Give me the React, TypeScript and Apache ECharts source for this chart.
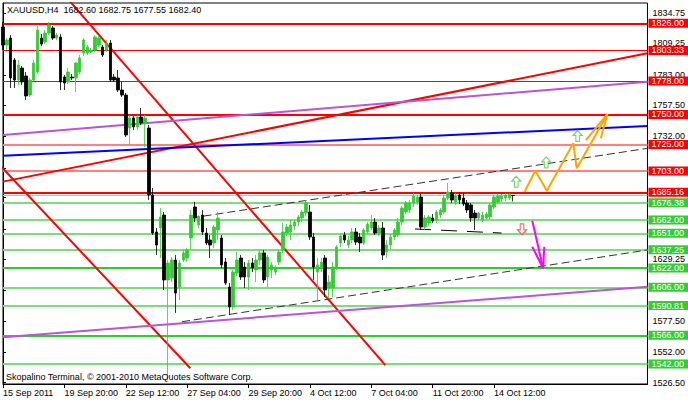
import React, { useEffect, useRef } from "react";
import * as echarts from "echarts";

// ---------- data ----------
const tickLabels = [
  "15 Sep 2011", "19 Sep 20:00", "22 Sep 12:00", "27 Sep 04:00", "29 Sep 20:00",
  "4 Oct 12:00", "7 Oct 04:00", "11 Oct 20:00", "14 Oct 12:00",
];
const barsPerTick = 16;
const slotCount = 169;

const opens = [
  1822.9, 1807.9, 1813.7, 1795.4, 1778.7, 1788.7, 1782.1, 1766.2, 1778.7, 1785.4,
  1813.7, 1810.4, 1817.9, 1822.1, 1813.7, 1814.6, 1781.2, 1777.1, 1781.2, 1780.4,
  1785.4, 1801.2, 1801.2, 1802.1, 1803.7, 1807.9, 1806.2, 1803.7, 1809.6, 1781.2,
  1780.4, 1770.4, 1766.2, 1738.7, 1747.1, 1739.6, 1747.9, 1742.9, 1738.7, 1682.9,
  1652.1, 1655.4, 1666.2, 1612.1, 1613.7, 1628.7, 1606.2, 1628.7, 1630.4, 1647.1,
  1672.9, 1657.9, 1666.2, 1651.2, 1645.4, 1642.9, 1653.7, 1647.1, 1627.1, 1606.2,
  1589.6, 1617.9, 1630.4, 1622.9, 1614.6, 1626.2, 1620.4, 1628.7, 1634.6, 1614.6,
  1620.4, 1618.7, 1627.1, 1637.1, 1651.2, 1652.1, 1657.1, 1660.4, 1663.7, 1667.9,
  1668.7, 1647.9, 1618.7, 1622.1, 1630.4, 1605.4, 1605.4, 1622.9, 1642.9, 1649.6,
  1641.2, 1645.4, 1652.1, 1647.9, 1642.9, 1652.1, 1655.4, 1660.4, 1651.2, 1655.4,
  1635.4, 1641.2, 1647.9, 1649.6, 1660.4, 1668.7, 1670.4, 1676.2, 1677.1, 1681.2,
  1656.2, 1659.6, 1663.7, 1662.1, 1666.2, 1668.7, 1680.4, 1684.6, 1677.1, 1682.9,
  1680.4, 1676.2, 1674.6, 1667.9, 1663.7, 1662.1, 1663.7, 1664.6, 1672.9, 1677.1,
  1679.6, 1680.4, 1680.4, 1682.6,
];
const highs = [
  1827.1, 1813.7, 1816.2, 1797.1, 1795.4, 1790.4, 1785.4, 1780.4, 1795.4, 1823.7,
  1817.1, 1820.4, 1827.1, 1823.7, 1817.9, 1817.1, 1782.9, 1788.7, 1783.7, 1793.7,
  1799.6, 1813.7, 1807.9, 1805.4, 1816.2, 1816.2, 1807.9, 1812.1, 1812.1, 1783.7,
  1787.1, 1777.1, 1767.9, 1749.6, 1748.7, 1749.6, 1755.4, 1749.6, 1741.2, 1688.7,
  1655.4, 1672.1, 1668.7, 1628.7, 1631.2, 1632.9, 1628.7, 1637.1, 1638.7, 1670.4,
  1677.1, 1666.2, 1670.4, 1655.4, 1649.6, 1657.9, 1668.7, 1649.6, 1630.4, 1609.6,
  1620.4, 1635.4, 1632.9, 1627.1, 1628.7, 1630.4, 1632.9, 1637.1, 1637.1, 1632.9,
  1627.1, 1624.6, 1637.1, 1659.6, 1658.7, 1662.1, 1662.1, 1666.2, 1670.4, 1678.7,
  1674.6, 1651.2, 1630.4, 1630.4, 1632.9, 1616.2, 1627.1, 1641.2, 1651.2, 1652.1,
  1648.7, 1655.4, 1655.4, 1651.2, 1655.4, 1660.4, 1666.2, 1663.7, 1657.9, 1660.4,
  1645.4, 1650.4, 1655.4, 1663.7, 1673.7, 1677.9, 1678.7, 1684.6, 1682.9, 1683.7,
  1666.2, 1666.2, 1667.1, 1670.4, 1672.1, 1682.9, 1692.9, 1687.1, 1684.6, 1685.4,
  1684.6, 1678.7, 1676.2, 1670.4, 1668.7, 1668.7, 1668.7, 1676.2, 1682.9, 1683.7,
  1683.7, 1684.6, 1684.6, 1682.75,
];
const lows = [
  1803.7, 1803.7, 1772.1, 1772.1, 1774.6, 1774.6, 1762.1, 1764.6, 1777.1, 1783.7,
  1807.1, 1808.7, 1816.2, 1812.1, 1812.1, 1770.4, 1770.4, 1775.4, 1778.7, 1768.7,
  1783.7, 1798.7, 1799.6, 1801.2, 1802.1, 1806.2, 1797.9, 1802.1, 1777.1, 1777.1,
  1768.7, 1764.6, 1731.2, 1724.6, 1737.1, 1737.1, 1741.2, 1722.9, 1678.7, 1649.6,
  1632.9, 1630.4, 1603.7, 1528.7, 1610.4, 1584.6, 1595.4, 1627.1, 1627.1, 1637.1,
  1660.4, 1655.4, 1649.6, 1641.2, 1630.4, 1638.7, 1645.4, 1622.1, 1607.9, 1582.9,
  1587.1, 1615.4, 1612.1, 1605.4, 1603.7, 1618.7, 1610.4, 1624.6, 1609.6, 1606.2,
  1613.7, 1616.2, 1624.6, 1634.6, 1648.7, 1645.4, 1653.7, 1657.1, 1660.4, 1665.4,
  1645.4, 1612.1, 1595.4, 1618.7, 1597.9, 1597.1, 1597.9, 1620.4, 1639.6, 1642.9,
  1638.7, 1642.9, 1641.2, 1635.4, 1641.2, 1650.4, 1653.7, 1649.6, 1648.7, 1628.7,
  1630.4, 1637.1, 1645.4, 1647.9, 1657.9, 1667.1, 1667.9, 1672.9, 1674.6, 1653.7,
  1653.7, 1657.1, 1659.6, 1659.6, 1663.7, 1667.1, 1678.7, 1676.2, 1674.6, 1675.4,
  1673.7, 1667.9, 1660.4, 1653.7, 1662.1, 1660.4, 1662.1, 1662.9, 1671.2, 1675.4,
  1677.1, 1677.9, 1678.7, 1677.55,
];
const closes = [
  1807.9, 1812.1, 1780.4, 1778.7, 1791.2, 1777.1, 1765.4, 1778.7, 1792.9, 1820.4,
  1808.7, 1817.9, 1824.6, 1813.7, 1816.2, 1777.1, 1776.2, 1785.4, 1780.4, 1792.9,
  1797.1, 1812.1, 1806.2, 1803.7, 1814.6, 1813.7, 1799.6, 1809.6, 1778.7, 1778.7,
  1770.4, 1766.2, 1732.9, 1747.1, 1739.6, 1747.9, 1742.9, 1747.1, 1682.9, 1651.2,
  1641.2, 1664.6, 1612.1, 1626.2, 1628.7, 1601.2, 1626.2, 1634.6, 1637.1, 1666.2,
  1663.7, 1664.6, 1652.1, 1642.9, 1641.2, 1656.2, 1663.7, 1624.6, 1609.6, 1589.6,
  1618.7, 1628.7, 1614.6, 1614.6, 1626.2, 1622.1, 1628.7, 1634.6, 1612.1, 1631.2,
  1624.6, 1622.1, 1635.4, 1652.1, 1656.2, 1657.9, 1660.4, 1664.6, 1668.7, 1676.2,
  1647.9, 1622.9, 1624.6, 1627.1, 1603.7, 1610.4, 1622.9, 1639.6, 1648.7, 1645.4,
  1645.4, 1652.1, 1643.7, 1642.9, 1653.7, 1658.7, 1660.4, 1651.2, 1655.4, 1632.9,
  1641.2, 1647.9, 1653.7, 1660.4, 1672.1, 1676.2, 1676.2, 1682.1, 1681.2, 1656.2,
  1663.7, 1664.6, 1661.2, 1668.7, 1670.4, 1680.4, 1685.4, 1678.7, 1682.1, 1678.7,
  1675.4, 1670.4, 1663.7, 1663.7, 1667.9, 1666.2, 1667.1, 1674.6, 1681.2, 1682.1,
  1682.1, 1682.9, 1683.7, 1682.4,
];

// tick marks at every price step; labels only where the reference leaves them visible
const priceTicks = [
  1834.75, 1809.25, 1783.0, 1757.5, 1732.0, 1705.25, 1680.75, 1654.75,
  1629.25, 1603.75, 1577.5, 1552.0, 1526.5,
];
const priceTickLabels = [1834.75, 1809.25, 1783.0, 1757.5, 1732.0, 1629.25, 1577.5, 1552.0, 1526.5];
const redLevels = [1826.0, 1803.33, 1778.0, 1750.0, 1725.0, 1703.0, 1685.16];
const greenLevels = [1676.38, 1662.0, 1651.0, 1637.25, 1622.0, 1606.0, 1590.81, 1566.0, 1542.0];
const bidPrice = 1682.4;
const lastBar = { open: 1682.6, high: 1682.75, low: 1677.55, close: 1682.4 };

// trend-line objects in (bar index, price)
const redFallUpper = [[15, 1853.3], [99.66, 1541.2]];
const redFallLower = [[-2, 1711.7], [48.85, 1538.5]];
const redRise = [[0, 1694.05], [168, 1801.05]];
const violetUpper = [[0, 1732.95], [168, 1777.3]];
const violetLower = [[0, 1564.3], [168, 1606.5]];
const blueRise = [[0, 1715.65], [168, 1740.4]];
const channelUpper = [[49.2, 1663.8], [168, 1721.8]];
const channelLower = [[46.68, 1577.3], [168, 1637.1]];
const supportDash = [[107.4, 1654.6], [129.95, 1651.2]];
const orangePath = [[135.98, 1685.65], [138.75, 1703.15], [141.78, 1686.5], [148.67, 1726.0], [149.55, 1705.15], [157.57, 1750.4]];
const orangeHeadA = [[151.97, 1728.7], [157.57, 1750.4]];
const orangeHeadB = [[155.84, 1730.15], [157.57, 1750.4]];
const magentaPath = [[137.97, 1661.5], [140.8, 1621.8]];
const magentaHeadA = [[137.97, 1639.8], [140.8, 1621.8]];
const magentaHeadB = [[141.1, 1639.8], [140.8, 1621.8]];
const upArrows = [[133.8, 1694.0], [141.6, 1710.1], [149.8, 1732.1]];
const downArrows = [[135.3, 1654.3]];

// ---------- styles ----------
const FONT = "'Liberation Sans', Arial, sans-serif";
const strongLevels = [1826.0, 1750.0, 1685.16, 1622.0, 1566.0];
const softRed = [1725.0, 1703.0];

export default function App() {
  const ref = useRef<HTMLDivElement>(null);
  useEffect(() => {
    if (!ref.current) return;
    const chart = echarts.init(ref.current, undefined, { renderer: "svg" });
    const categories = Array.from({ length: slotCount }, (_, i) => String(i));
    const labelFor = (i: number) =>
      i % barsPerTick === 0 && tickLabels[i / barsPerTick] ? tickLabels[i / barsPerTick] : "";

    const levelItems: any[] = [];
    levelItems.push({
      yAxis: bidPrice,
      lineStyle: { color: "#c0c0c0", width: 1, type: "solid" },
      label: { show: false },
    });
    redLevels.forEach((v) => {
      const strong = strongLevels.includes(v);
      const soft = softRed.includes(v);
      levelItems.push({
        yAxis: v,
        lineStyle: { color: soft ? "#ff8080" : "#ff0000", width: strong || soft ? 2 : 1, type: "solid" },
        label: {
          show: true, position: "end", formatter: v.toFixed(2), distance: 1,
          backgroundColor: "#ff0000", color: "#fff", fontSize: 9, fontFamily: FONT,
          lineHeight: 9, padding: [0, 8, 0, 3],
        },
      });
    });
    greenLevels.forEach((v) => {
      const strong = strongLevels.includes(v);
      levelItems.push({
        yAxis: v,
        lineStyle: { color: strong ? "#2ecc2e" : "#7ddc7d", width: 2, type: "solid" },
        label: {
          show: true, position: "end", formatter: v.toFixed(2), distance: 1,
          backgroundColor: "#33cc33", color: "#fff", fontSize: 9, fontFamily: FONT,
          lineHeight: 9, padding: [0, 8, 0, 3],
        },
      });
    });

    const seg = (data: number[][], color: string, width: number, type: any = "solid", z = 3) => ({
      type: "line", xAxisIndex: 1, yAxisIndex: 0, data, symbol: "none", showSymbol: false,
      silent: true, z, lineStyle: { color, width, type }, clip: true,
    });

    const upPath = "path://M5,0 L10,5 L7,5 L7,11 L3,11 L3,5 L0,5 Z";
    const downPath = "path://M3,0 L7,0 L7,6 L10,6 L5,11 L0,6 L3,6 Z";

    chart.setOption({
      animation: false,
      backgroundColor: "#fff",
      textStyle: { fontFamily: FONT },
      grid: { left: 3, right: 36, top: 3, bottom: 17, show: true, borderColor: "#000", borderWidth: 1, backgroundColor: "#fff" },
      xAxis: [
        {
          type: "category", data: categories, boundaryGap: false,
          axisLine: { show: true, lineStyle: { color: "#000", width: 1 } },
          axisTick: { show: true, length: 4, interval: (i: number) => labelFor(i) !== "", lineStyle: { color: "#000" } },
          axisLabel: {
            interval: (i: number) => labelFor(i) !== "", formatter: (_v: string, i: number) => labelFor(i),
            align: "left", margin: 4, fontSize: 9, color: "#000", fontFamily: FONT,
          },
          splitLine: { show: false },
        },
        { type: "value", min: 0, max: slotCount - 1, show: false },
      ],
      yAxis: {
        type: "value", position: "right", min: 1525.4, max: 1842.9, scale: true,
        splitLine: { show: false },
        axisLine: { show: true, lineStyle: { color: "#000", width: 1 } },
        axisTick: { show: true, length: 3, customValues: priceTicks, lineStyle: { color: "#000" } },
        axisLabel: {
          customValues: priceTickLabels, formatter: (v: number) => v.toFixed(2),
          color: "#000", fontSize: 9, margin: 5, fontFamily: FONT,
        },
      },
      series: [
        {
          type: "candlestick", xAxisIndex: 0, yAxisIndex: 0, z: 4,
          data: opens.map((o, i) => [o, closes[i], lows[i], highs[i]]),
          barWidth: 3,
          itemStyle: { color: "#32cd32", color0: "#000", borderColor: "#32cd32", borderColor0: "#000", borderWidth: 0.8 },
          markLine: { symbol: ["none", "none"], silent: true, animation: false, z: 2, data: levelItems },
        },
        seg(redFallUpper, "#ff0000", 2),
        seg(redFallLower, "#ff0000", 2),
        seg(redRise, "#ff0000", 2),
        seg(violetUpper, "#b955d6", 2),
        seg(violetLower, "#b955d6", 2),
        seg(blueRise, "#0000ff", 2),
        seg(channelUpper, "#333", 1, [8, 4]),
        seg(channelLower, "#333", 1, [8, 4]),
        seg(supportDash, "#000", 1, [16, 10]),
        seg(orangePath, "#ffa500", 2, "solid", 6),
        seg(orangeHeadA, "#ffa500", 2, "solid", 6),
        seg(orangeHeadB, "#ffa500", 2, "solid", 6),
        seg(magentaPath, "#ff00ff", 2, "solid", 6),
        seg(magentaHeadA, "#ff00ff", 2, "solid", 6),
        seg(magentaHeadB, "#ff00ff", 2, "solid", 6),
        {
          type: "scatter", xAxisIndex: 1, yAxisIndex: 0, data: upArrows, symbol: upPath, symbolSize: [9, 11],
          silent: true, z: 7, itemStyle: { color: "#fff", borderColor: "#55cc55", borderWidth: 1.2 },
        },
        {
          type: "scatter", xAxisIndex: 1, yAxisIndex: 0, data: downArrows, symbol: downPath, symbolSize: [9, 11],
          silent: true, z: 7, itemStyle: { color: "#fff", borderColor: "#ff4040", borderWidth: 1.2 },
        },
      ],
      graphic: [
        {
          type: "text", left: 7, top: 5, z: 10, silent: true,
          style: {
            text: `XAUUSD,H4  ${lastBar.open.toFixed(2)} ${lastBar.high.toFixed(2)} ${lastBar.low.toFixed(2)} ${lastBar.close.toFixed(2)}`,
            fill: "#000", fontSize: 9, fontFamily: FONT,
          },
        },
        {
          type: "text", left: 6, top: 372, z: 10, silent: true,
          style: { text: "Skopalino Terminal, © 2001-2010 MetaQuotes Software Corp.", fill: "#000", fontSize: 9, fontFamily: FONT },
        },
      ],
    });
    return () => chart.dispose();
  }, []);
  return <div ref={ref} style={{ position: "absolute", left: 0, top: 0, width: 688, height: 401 }} />;
}
